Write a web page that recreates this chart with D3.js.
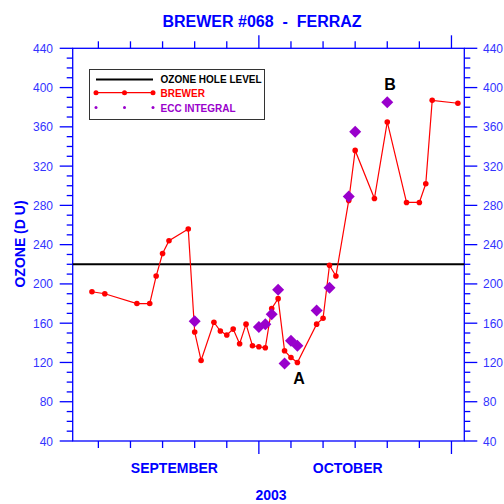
<!DOCTYPE html>
<html>
<head>
<meta charset="utf-8">
<script src="https://cdn.jsdelivr.net/npm/d3@7"></script>
<style>
  body { margin: 0; background: #fff; }
  text { font-family: Arial, "Liberation Sans", sans-serif; }
</style>
</head>
<body>
<svg width="504" height="504"></svg>
<script>
// brewer daily values (2003), "m-d"
var brewerDates = ["9-5","9-7","9-12","9-14","9-15","9-16","9-17","9-20","9-21","9-22",
  "9-24","9-25","9-26","9-27","9-28","9-29","9-30","10-1","10-2","10-3","10-4","10-5",
  "10-6","10-7","10-10","10-11","10-12","10-13","10-15","10-16","10-19","10-21","10-24",
  "10-26","10-27","10-28","11-1"];
var brewerValues = [192,190,180,180,208,231,244,256,151,122,
  161,152,148,154,139,159,137,136,135,175,185,132,
  125,120,159,165,219,208,285,336,287,365,283,
  283,302,387,384];

// ECC sonde integrals
var eccDates = ["9-21","10-1","10-2","10-3","10-4","10-5","10-6","10-7","10-10","10-12","10-15","10-16","10-21"];
var eccValues = [162,156,159,169,194,119,142,137,173,196,289,355,385];

var holeLevel = 220;
var yTicks = [40,80,120,160,200,240,280,320,360,400,440];
var months = ["SEPTEMBER","OCTOBER"];
var monthDates = ["9-18","10-15"];

function parseDay(s) {
  var p = s.split("-");
  return new Date(2003, +p[0] - 1, +p[1]);
}

var svg = d3.select("svg");
var blue = "#0000ff";

var x = d3.scaleTime()
    .domain([new Date(2003, 8, 2), new Date(2003, 10, 2)])
    .range([72.7, 464.3]);
var y = d3.scaleLinear().domain([40, 440]).range([441, 48.3]);

// frame
svg.append("rect")
    .attr("x", x.range()[0]).attr("y", y(440))
    .attr("width", x.range()[1] - x.range()[0])
    .attr("height", y(40) - y(440))
    .attr("fill", "none").attr("stroke", blue).attr("stroke-width", 1.3);

// x ticks: every 5 days, long at Oct 1 and Oct 31
var xTickDates = d3.timeDay.range(new Date(2003, 8, 6), new Date(2003, 10, 1), 5);
xTickDates.forEach(function(d) {
  var big = (d.getDate() == 1 || d.getDate() == 31);
  var len = big ? 13 : 7;
  svg.append("line").attr("x1", x(d)).attr("x2", x(d))
      .attr("y1", y(40)).attr("y2", y(40) + len)
      .attr("stroke", blue).attr("stroke-width", 1.3);
  svg.append("line").attr("x1", x(d)).attr("x2", x(d))
      .attr("y1", y(440)).attr("y2", y(440) - len)
      .attr("stroke", blue).attr("stroke-width", 1.3);
});

// y ticks
d3.range(40, 441, 10).forEach(function(v) {
  var big = v % 40 == 0;
  var len = big ? 13 : 6;
  svg.append("line").attr("x1", x.range()[0] - len).attr("x2", x.range()[0])
      .attr("y1", y(v)).attr("y2", y(v))
      .attr("stroke", blue).attr("stroke-width", 1.3);
  svg.append("line").attr("x1", x.range()[1]).attr("x2", x.range()[1] + len)
      .attr("y1", y(v)).attr("y2", y(v))
      .attr("stroke", blue).attr("stroke-width", 1.3);
});

svg.selectAll(".ylabL").data(yTicks).enter().append("text")
    .attr("x", 53).attr("y", function(d) { return y(d) + 4.5; })
    .attr("text-anchor", "end").attr("font-size", 12).attr("fill", "#3333ff")
    .text(function(d) { return d; });
svg.selectAll(".ylabR").data(yTicks).enter().append("text")
    .attr("x", 483).attr("y", function(d) { return y(d) + 4.5; })
    .attr("text-anchor", "start").attr("font-size", 12).attr("fill", "#3333ff")
    .text(function(d) { return d; });

svg.selectAll(".month").data(months).enter().append("text")
    .attr("x", function(d, i) { return x(parseDay(monthDates[i])) - 1; })
    .attr("y", 473)
    .attr("text-anchor", "middle").attr("font-size", 14).attr("font-weight", "bold")
    .attr("fill", blue).text(function(d) { return d; });

svg.append("text").attr("x", 271).attr("y", 500)
    .attr("text-anchor", "middle").attr("font-size", 14).attr("font-weight", "bold")
    .attr("fill", blue).text("2003");

svg.append("text").attr("transform", "translate(25,244) rotate(-90)")
    .attr("text-anchor", "middle").attr("font-size", 14).attr("font-weight", "bold")
    .attr("fill", blue).text("OZONE (D U)");

svg.append("text").attr("x", 262).attr("y", 26.5)
    .attr("text-anchor", "middle").attr("font-size", 16).attr("font-weight", "bold")
    .attr("fill", blue).style("white-space", "pre")
    .text("BREWER #068  -  FERRAZ");

// ozone hole level
svg.append("line")
    .attr("x1", x.range()[0]).attr("x2", x.range()[1])
    .attr("y1", y(holeLevel)).attr("y2", y(holeLevel))
    .attr("stroke", "#000").attr("stroke-width", 2);

// brewer series
var brewer = brewerDates.map(function(d, i) { return {date: parseDay(d), value: brewerValues[i]}; });
var line = d3.line()
    .x(function(d) { return x(d.date); })
    .y(function(d) { return y(d.value); });

svg.append("path").datum(brewer)
    .attr("d", line).attr("fill", "none")
    .attr("stroke", "#ff0000").attr("stroke-width", 1.2);

svg.append("g").selectAll("circle").data(brewer).enter().append("circle")
    .attr("cx", function(d) { return x(d.date); })
    .attr("cy", function(d) { return y(d.value); })
    .attr("r", 2.8).attr("fill", "#ff0000");

// ecc diamonds
var ecc = eccDates.map(function(d, i) { return {date: parseDay(d), value: eccValues[i]}; });
var purple = "#9900cc";
svg.append("g").selectAll("path").data(ecc).enter().append("path")
    .attr("d", "M0,-6L6,0L0,6L-6,0Z")
    .attr("transform", function(d) { return "translate(" + x(d.date) + "," + y(d.value) + ")"; })
    .attr("fill", purple);

// annotations
svg.append("text").attr("x", 299).attr("y", 384)
    .attr("text-anchor", "middle").attr("font-size", 16).attr("font-weight", "bold")
    .text("A");
svg.append("text").attr("x", 390).attr("y", 90)
    .attr("text-anchor", "middle").attr("font-size", 16).attr("font-weight", "bold")
    .text("B");

// legend
var lg = svg.append("g");
lg.append("rect").attr("x", 89.5).attr("y", 69.5).attr("width", 175).attr("height", 50)
    .attr("fill", "#fff").attr("stroke", "#333").attr("stroke-width", 1);
lg.append("line").attr("x1", 96).attr("x2", 153).attr("y1", 79.5).attr("y2", 79.5)
    .attr("stroke", "#000").attr("stroke-width", 2);
lg.append("line").attr("x1", 96).attr("x2", 153).attr("y1", 92.7).attr("y2", 92.7)
    .attr("stroke", "#ff0000").attr("stroke-width", 1.2);
[96, 124.5, 153].forEach(function(px) {
  lg.append("circle").attr("cx", px).attr("cy", 92.7).attr("r", 2.5).attr("fill", "#ff0000");
  lg.append("circle").attr("cx", px).attr("cy", 107.5).attr("r", 1.5).attr("fill", purple);
});
var legendNames = ["OZONE HOLE LEVEL", "BREWER", "ECC INTEGRAL"];
var legendColors = ["#000", "#ff0000", purple];
lg.selectAll("text").data(legendNames).enter().append("text")
    .attr("x", 160.5).attr("y", function(d, i) { return [83, 96.5, 111.5][i]; })
    .attr("font-size", 10).attr("font-weight", "bold")
    .attr("fill", function(d, i) { return legendColors[i]; })
    .text(function(d) { return d; });
</script>
</body>
</html>
